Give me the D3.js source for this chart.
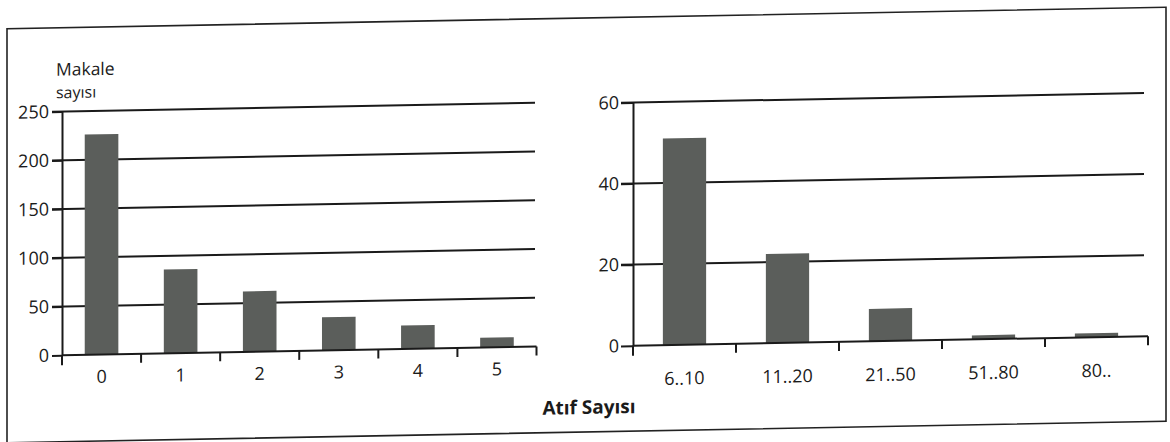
<!DOCTYPE html>
<html><head><meta charset="utf-8">
<script src="https://cdn.jsdelivr.net/npm/d3@7"></script>
<style>
body{margin:0;background:#fff}
svg{display:block}
text{font-family:"Open Sans",sans-serif;fill:#1b1b1b}
</style>
</head><body>
<svg id="c" width="1170" height="442"></svg>
<script>
// ---- data ----
const leftCategories = ["0", "1", "2", "3", "4", "5"];
const leftValues = [226, 86, 62, 34, 24, 10];
const leftTicks = [0, 50, 100, 150, 200, 250];

const rightCategories = ["6..10", "11..20", "21..50", "51..80", "80.."];
const rightValues = [51, 22, 8, 1, 1];
const rightTicks = [0, 20, 40, 60];

const yTitleLines = ["Makale", "sayısı"];
const xTitle = "Atıf Sayısı";

// ---- drawing ----
const svg = d3.select("#c");
// the scanned page is slightly slanted
const g = svg.append("g").attr("transform", "translate(585,0) skewY(-1.06) translate(-585,0)");

g.append("path").attr("d", "M7,18H1166V432H7Z")
  .attr("fill", "none").attr("stroke", "#222").attr("stroke-width", 1.6);

function panel(o) {
  const x = d3.scaleBand().domain(o.cats).range(o.xr).paddingInner(o.pad).paddingOuter(o.pad / 2);
  const y = d3.scaleLinear().domain([0, d3.max(o.ticks)]).range(o.yr);
  const p = g.append("g");

  // gridlines (behind bars)
  p.selectAll("line.grid").data(o.ticks.filter(t => t > 0)).join("line")
    .attr("x1", o.xr[0] - o.ytick).attr("x2", o.gridEnd)
    .attr("y1", d => y(d)).attr("y2", d => y(d))
    .attr("stroke", "#1a1a1a").attr("stroke-width", 2);

  // bars
  p.selectAll("rect.bar").data(o.vals).join("rect")
    .attr("x", (d, i) => x(o.cats[i])).attr("width", x.bandwidth())
    .attr("y", d => y(d)).attr("height", d => y(0) - y(d))
    .attr("fill", "#5b5e5b");

  // y axis
  const ya = p.append("g").attr("transform", `translate(${o.xr[0]},0)`)
    .call(d3.axisLeft(y).tickValues(o.ticks).tickSize(o.ytick).tickSizeOuter(0).tickPadding(o.ypad));
  ya.select(".domain").attr("stroke", "#1a1a1a").attr("stroke-width", 2);
  ya.selectAll(".tick line").attr("stroke", "#1a1a1a").attr("stroke-width", 2);
  ya.selectAll(".tick text").style("font-size", "18px").attr("fill", "#1b1b1b");

  // x axis line
  p.append("line").attr("x1", o.xr[0]).attr("x2", o.xr[1])
    .attr("y1", y(0)).attr("y2", y(0)).attr("stroke", "#1a1a1a").attr("stroke-width", 2);
  // boundary ticks
  const bounds = d3.range(o.cats.length + 1).map(i => o.xr[0] + i * x.step());
  p.selectAll("line.bt").data(bounds).join("line")
    .attr("x1", d => d).attr("x2", d => d)
    .attr("y1", y(0)).attr("y2", (d, i) => y(0) + (i === 0 ? 10 : 9))
    .attr("stroke", "#1a1a1a").attr("stroke-width", 2);
  // category labels
  const xa = p.append("g").attr("transform", `translate(0,${y(0)})`)
    .call(d3.axisBottom(x).tickSize(0).tickPadding(o.xpad));
  xa.select(".domain").remove();
  xa.selectAll(".tick text").style("font-size", "18px").attr("fill", "#1b1b1b");
}

panel({cats: leftCategories, vals: leftValues, ticks: leftTicks,
  xr: [62, 536.5], yr: [345.6, 101.9], pad: 0.575, ytick: 10, ypad: 3, gridEnd: 535, xpad: 15.5});
panel({cats: rightCategories, vals: rightValues, ticks: rightTicks,
  xr: [633, 1148], yr: [346.6, 103.4], pad: 0.58, ytick: 12, ypad: 2, gridEnd: 1144, xpad: 27});

g.append("text").attr("x", 56).attr("y", 66).style("font-size", "17.5px").text(yTitleLines[0]);
g.append("text").attr("x", 56).attr("y", 88.5).style("font-size", "16px").text(yTitleLines[1]);
g.append("text").attr("x", 589).attr("y", 414).attr("text-anchor", "middle")
  .style("font-size", "19px").style("font-weight", "700").text(xTitle);
</script>
</body></html>
